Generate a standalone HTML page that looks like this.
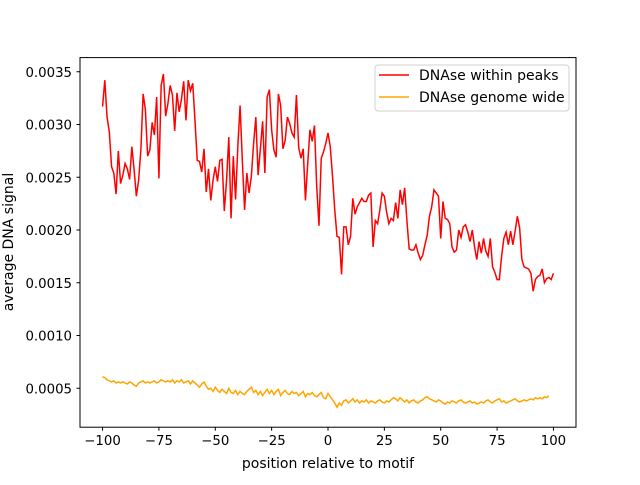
<!DOCTYPE html>
<html><head><meta charset="utf-8"><style>
body{margin:0;background:#fff}
svg text{font-family:"DejaVu Sans","Liberation Sans",sans-serif;font-size:13.3px;fill:#000}
svg text.big{font-size:14px}
</style></head><body>
<svg id="chart" width="640" height="480" xmlns="http://www.w3.org/2000/svg">
<rect x="0" y="0" width="640" height="480" fill="#fff"/>
<g id="marks"></g>
<rect x="80" y="57.6" width="496" height="369.6" fill="none" stroke="#000" stroke-width="1"/>
<g id="axes"></g>
<text class="big" x="328" y="468" text-anchor="middle">position relative to motif</text>
<text class="big" transform="translate(13,242) rotate(-90)" text-anchor="middle">average DNA signal</text>
<g>
<rect x="375" y="65" width="194" height="46" rx="3" fill="#fff" stroke="#ccc" stroke-width="1" opacity="0.9"/>
<line x1="379" y1="75" x2="409" y2="75" stroke="#ff0000" stroke-width="1.5"/>
<text class="big" x="419" y="80">DNAse within peaks</text>
<line x1="379" y1="97" x2="409" y2="97" stroke="#ffa500" stroke-width="1.5"/>
<text class="big" x="419" y="102">DNAse genome wide</text>
</g>
</svg>
<script>
const xTicks=[-100,-75,-50,-25,0,25,50,75,100];
const yTicks=[0.0005,0.0010,0.0015,0.0020,0.0025,0.0030,0.0035];
const yTickLabels=["0.0005","0.0010","0.0015","0.0020","0.0025","0.0030","0.0035"];
const peaks=[31.7,34.2,30.7,29.3,26.0,25.4,23.4,27.5,24.4,25.2,26.3,25.8,24.8,27.9,25.7,23.2,24.7,27.6,32.9,31.4,27.0,27.6,30.2,29.0,32.6,24.9,33.7,34.8,30.8,32.0,33.7,32.8,29.4,33.0,31.2,32.4,34.1,30.4,34.2,33.2,33.9,30.4,26.6,26.5,25.5,27.7,23.6,25.8,22.8,24.7,26.0,24.6,26.6,26.7,21.8,24.7,28.8,21.1,27.0,22.9,27.9,31.8,26.6,21.9,25.4,23.5,25.1,28.2,30.7,25.2,27.7,30.3,25.4,32.6,33.3,29.5,27.6,26.9,32.9,31.8,27.7,28.5,30.7,30.1,29.2,28.8,32.8,27.8,26.8,27.7,22.8,26.3,29.5,28.4,29.9,24.1,20.4,26.8,27.4,28.2,
29.2,27.9,25.1,21.9,19.4,19.3,15.8,20.3,20.3,18.6,19.4,23.0,21.5,22.2,22.6,23.0,22.7,22.7,23.3,23.5,18.4,20.9,20.6,21.9,23.5,23.2,21.7,20.6,21.1,20.9,22.6,21.1,23.8,22.4,24.0,20.9,18.2,18.1,18.1,18.6,17.8,17.2,17.6,18.6,19.5,21.3,22.2,23.8,23.5,23.2,19.2,22.7,21.1,21.0,20.6,18.4,17.9,18.1,20.0,19.3,20.3,20.5,19.8,18.9,20.0,18.4,17.2,18.9,17.8,19.2,18.0,17.5,19.2,16.5,16.0,15.3,15.3,17.5,19.2,19.8,18.6,19.9,18.6,19.9,21.3,20.2,17.2,16.5,16.4,16.3,15.9,14.2,15.3,15.6,15.7,16.3,15.0,15.4,15.5,15.3,15.9];
const genome=[6.1,6.0,5.8,5.7,5.6,5.7,5.5,5.6,5.5,5.6,5.5,5.4,5.6,5.5,5.3,5.2,5.5,5.6,5.7,5.5,5.6,5.5,5.6,5.7,5.5,5.6,5.8,5.7,5.6,5.7,5.6,5.8,5.5,5.7,5.6,5.8,5.5,5.6,5.7,5.4,5.7,5.5,5.3,5.1,5.4,5.6,5.2,4.9,5.0,4.7,5.1,4.8,4.6,4.9,4.7,4.5,5.0,4.6,4.5,4.8,4.4,4.7,4.5,4.4,4.7,4.9,5.1,4.6,4.8,4.4,4.7,4.3,4.6,4.9,4.5,4.8,4.4,4.7,4.9,4.3,4.6,4.8,4.5,4.4,4.7,4.5,4.6,4.3,4.5,4.7,4.2,4.5,4.4,4.6,4.3,4.2,4.4,4.6,4.1,4.0,4.5,4.2,3.9,3.6,3.2,3.6,3.4,3.8,3.9,3.6,3.8,4.0,3.7,3.9,3.6,3.8,3.7,3.9,3.6,3.8,3.7,3.6,3.8,3.9,3.7,3.6,3.8,3.7,3.9,4.1,4.0,3.8,4.1,3.9,3.7,3.9,3.6,3.8,3.9,3.7,3.6,3.8,3.9,4.1,4.2,4.0,3.9,3.8,3.7,3.9,3.8,3.6,3.5,3.7,3.6,3.8,3.7,3.6,3.8,3.9,3.7,3.6,3.7,3.8,3.6,3.7,3.5,3.6,3.7,3.6,3.8,3.9,3.7,3.6,3.8,3.9,4.0,3.7,3.8,3.6,3.7,3.8,3.9,4.0,3.8,3.7,3.8,3.9,3.8,3.9,4.0,3.9,4.1,4.0,4.1,4.0,4.2,4.1,4.3];
const scale=1e-4, x0=-100;
const X=v=>80+(v+110)/220*496;
const Y=v=>441-v*105500;
const NS="http://www.w3.org/2000/svg";
const marks=document.getElementById('marks'), axes=document.getElementById('axes');
function line(arr,color,name){
  const p=document.createElementNS(NS,'polyline');
  
  
  p.setAttribute('points',arr.map((v,i)=>X(x0+i).toFixed(2)+','+Y(v*scale).toFixed(2)).join(' '));
  p.setAttribute('fill','none');p.setAttribute('stroke',color);p.setAttribute('stroke-width','1.5');
  marks.appendChild(p);
}
line(peaks,'#ff0000','series-within-peaks');
line(genome,'#ffa500','series-genome-wide');
xTicks.forEach(t=>{
  const l=document.createElementNS(NS,'line');
  
  
  l.setAttribute('x1',X(t));l.setAttribute('x2',X(t));l.setAttribute('y1',427.2);l.setAttribute('y2',430.7);l.setAttribute('stroke','#000');
  axes.appendChild(l);
  const tx=document.createElementNS(NS,'text');
  
  
  tx.setAttribute('x',X(t));tx.setAttribute('y',445);tx.setAttribute('text-anchor','middle');
  tx.textContent=t<0?'\u2212'+(-t):String(t);
  axes.appendChild(tx);
});
yTicks.forEach((t,i)=>{
  const l=document.createElementNS(NS,'line');
  
  
  l.setAttribute('x1',76.5);l.setAttribute('x2',80);l.setAttribute('y1',Y(t));l.setAttribute('y2',Y(t));l.setAttribute('stroke','#000');
  axes.appendChild(l);
  const tx=document.createElementNS(NS,'text');
  
  
  tx.setAttribute('x',72);tx.setAttribute('y',Y(t)+5);tx.setAttribute('text-anchor','end');
  tx.textContent=yTickLabels[i];
  axes.appendChild(tx);
});
</script>
</body></html>
